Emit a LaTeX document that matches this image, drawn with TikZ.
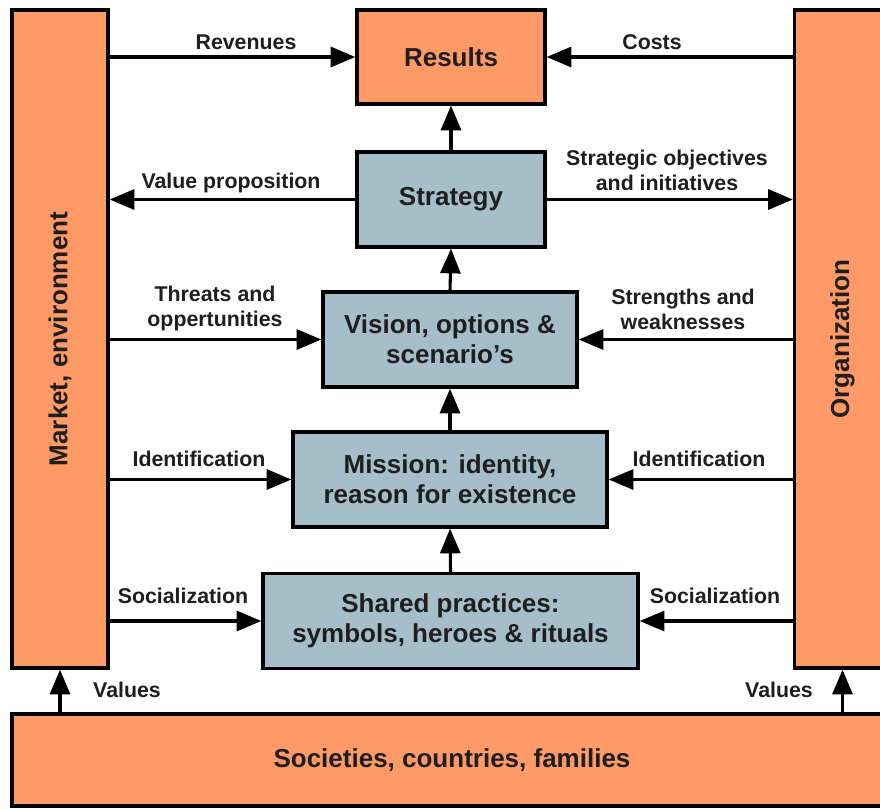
\documentclass[tikz,border=0pt]{standalone}
\usepackage{fontspec}
\setmainfont{Liberation Sans}
\usetikzlibrary{arrows.meta}
\definecolor{boxorange}{HTML}{FF9966}
\definecolor{boxblue}{HTML}{A6BEC9}
\definecolor{inkgray}{HTML}{1E1E1E}
\begin{document}
\begin{tikzpicture}[x=0.75pt,y=-0.75pt,
  outer/.style={draw=black,line width=2.5pt,fill=boxorange,inner sep=0pt,
    text=inkgray,font=\fontsize{19.5}{23}\selectfont\bfseries},
  core/.style={draw=black,line width=2.5pt,fill=boxblue,inner sep=0pt,align=center,
    text=inkgray,font=\fontsize{19.5}{22.5}\selectfont\bfseries},
  lbl/.style={text=inkgray,align=center,inner sep=0pt,
    font=\fontsize{16}{18.75}\selectfont\bfseries},
  arr/.style={line width=2.3pt,-{Triangle[length=18.5pt,width=15pt]}}]
\useasboundingbox (0,0) rectangle (880,808);
\clip (0,0) rectangle (880,808);

% side and bottom blocks
\node[outer,minimum width=96*0.75pt,minimum height=658*0.75pt] (mkt) at (60,339) {};
\node[rotate=90,text=inkgray,font=\fontsize{19.5}{23}\selectfont\bfseries] (mkttxt) at (mkt.center) {Market, environment};
\node[outer,minimum width=96*0.75pt,minimum height=658*0.75pt] (org) at (842.5,339) {};
\node[rotate=90,text=inkgray,font=\fontsize{19.5}{23}\selectfont\bfseries] (orgtxt) at (org.center) {Organization};
\node[outer,minimum width=880*0.75pt,minimum height=92*0.75pt] (soc) at (452,760) {Societies, countries, families};

% central column
\node[outer,minimum width=188*0.75pt,minimum height=94*0.75pt] (res) at (451,57) {Results};
\node[core,minimum width=188*0.75pt,minimum height=95*0.75pt] (str) at (451,199.5) {Strategy};
\node[core,minimum width=254*0.75pt,minimum height=95*0.75pt] (vis) at (450,339.5) {Vision, options \&\\scenario’s};
\node[core,minimum width=314*0.75pt,minimum height=95*0.75pt] (mis) at (450,479.5) {Mission: identity,\\reason for existence};
\node[core,minimum width=375*0.75pt,minimum height=95*0.75pt] (sha) at (450.5,621) {Shared practices:\\symbols, heroes \& rituals};

% vertical flow
\draw[arr] (sha.north) -- (mis.south);
\draw[arr] (mis.north) -- (vis.south);
\draw[arr] (vis.north) -- (str.south);
\draw[arr] (str.north) -- (res.south);
\draw[arr] (mkt.south |- soc.north) -- (mkt.south);
\draw[arr] (org.south |- soc.north) -- (org.south);

% horizontal flows
\draw[arr] (mkt.east |- res.west) -- (res.west);
\draw[arr] (org.west |- res.east) -- (res.east);
\draw[arr] (str.west) -- (mkt.east |- str.west);
\draw[arr] (str.east) -- (org.west |- str.east);
\draw[arr] (mkt.east |- vis.west) -- (vis.west);
\draw[arr] (org.west |- vis.east) -- (vis.east);
\draw[arr] (mkt.east |- mis.west) -- (mis.west);
\draw[arr] (org.west |- mis.east) -- (mis.east);
\draw[arr] (mkt.east |- sha.west) -- (sha.west);
\draw[arr] (org.west |- sha.east) -- (sha.east);

% flow labels
\node[lbl] (lrev) at (246,42) {Revenues};
\node[lbl] (lcost) at (652,42) {Costs};
\node[lbl] (lval) at (231,183) {Value proposition};
\node[lbl] (lobj) at (667,170) {Strategic objectives\\and initiatives};
\node[lbl] (lthr) at (215,308) {Threats and\\oppertunities};
\node[lbl] (lstr) at (683,309) {Strengths and\\weaknesses};
\node[lbl] (lidl) at (199,459) {Identification};
\node[lbl] (lidr) at (699,459) {Identification};
\node[lbl] (lsol) at (183,596) {Socialization};
\node[lbl] (lsor) at (715,596) {Socialization};
\node[lbl] (lvl) at (127,690) {Values};
\node[lbl] (lvr) at (779,690) {Values};
\end{tikzpicture}
\end{document}
